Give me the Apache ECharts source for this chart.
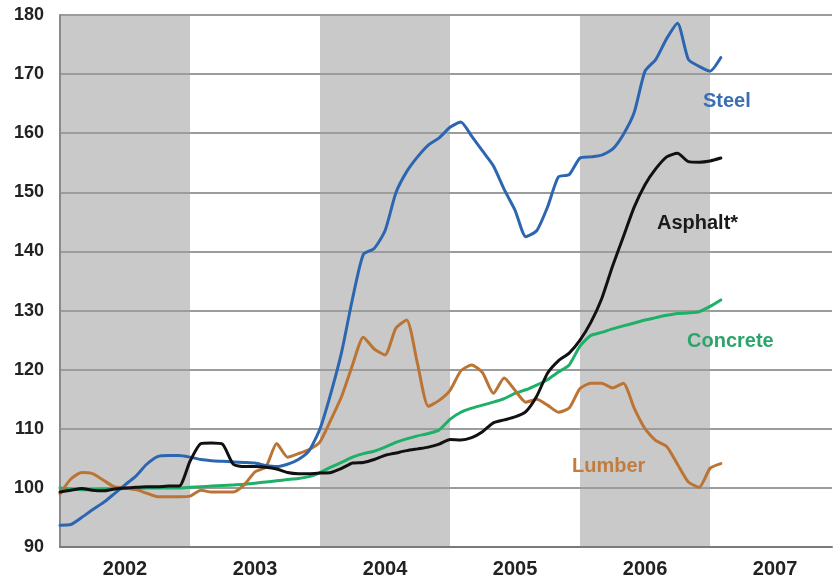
<!DOCTYPE html>
<html>
<head>
<meta charset="utf-8">
<script src="https://cdn.jsdelivr.net/npm/echarts@6/dist/echarts.min.js"></script>
<style>
  html, body { margin: 0; padding: 0; background: #ffffff; }
  #chart { width: 835px; height: 583px; }
</style>
</head>
<body>
<div id="chart"></div>
<script>
// Monthly construction material price indexes, Jan 2002 = first value
const startYear = 2002;
const yearLabels = ['2002', '2003', '2004', '2005', '2006', '2007'];
const shadedYears = [2002, 2004, 2006];
const yTicks = [90, 100, 110, 120, 130, 140, 150, 160, 170, 180];

const steel = [
  93.7, 93.8, 95.0, 96.3, 97.5, 99.0, 100.5, 102.0, 104.0, 105.3, 105.5, 105.5,
  105.2, 104.8, 104.6, 104.5, 104.4, 104.3, 104.2, 103.8, 103.6, 104.0, 104.8, 106.3,
  110.0, 116.0, 123.0, 132.0, 139.5, 140.5, 143.5, 149.9, 153.5, 156.0, 158.0, 159.2,
  161.0, 161.9, 159.5, 157.0, 154.5, 150.5, 147.0, 142.5, 143.5, 147.5, 152.6, 153.0,
  155.8, 156.0, 156.3, 157.3, 159.8, 163.5, 170.5, 172.5, 176.0, 178.6, 172.5, 171.3,
  170.5, 172.8
];
const asphalt = [
  99.3, 99.6, 99.9, 99.6, 99.5, 99.8, 100.0, 100.1, 100.2, 100.2, 100.3, 100.3,
  104.5, 107.5, 107.6, 107.4, 104.0, 103.6, 103.6, 103.5, 103.2, 102.6, 102.4, 102.4,
  102.5, 102.6, 103.3, 104.2, 104.3, 104.8, 105.5, 105.9, 106.3, 106.6, 106.9, 107.4,
  108.2, 108.1, 108.5, 109.5, 111.0, 111.5, 112.0, 112.9, 115.5, 119.4, 121.5, 122.8,
  125.0, 128.0, 132.0, 137.5, 142.5, 147.5, 151.3, 154.0, 156.0, 156.6, 155.2, 155.1,
  155.3, 155.8
];
const concrete = [
  100.0, 99.8, 99.7, 99.7, 99.8, 99.8, 99.9, 99.9, 100.0, 100.0, 100.0, 100.0,
  100.1, 100.2, 100.3, 100.4, 100.5, 100.6, 100.8, 101.0, 101.2, 101.4, 101.6, 101.9,
  102.6, 103.5, 104.3, 105.2, 105.8, 106.2, 106.9, 107.7, 108.3, 108.8, 109.2, 109.8,
  111.6, 112.8, 113.5, 114.0, 114.5, 115.1, 116.0, 116.6, 117.4, 118.3, 119.6, 120.8,
  124.0, 125.8, 126.3, 126.9, 127.4, 127.9, 128.4, 128.8, 129.2, 129.5, 129.6, 129.8,
  130.7, 131.8
];
const lumber = [
  99.0, 101.5, 102.6, 102.4, 101.3, 100.2, 100.0, 99.7, 99.1, 98.5, 98.5, 98.5,
  98.6, 99.6, 99.3, 99.3, 99.3, 100.5, 102.7, 103.5, 107.5, 105.2, 105.8, 106.5,
  107.8, 111.5, 115.5, 120.8, 125.5, 123.5, 122.5, 127.0, 128.4, 121.0, 113.8, 114.8,
  116.5, 119.8, 120.8, 119.5, 116.0, 118.6, 116.5, 114.5, 115.0, 114.0, 112.8, 113.5,
  116.8, 117.7, 117.7, 116.9, 117.7, 113.5, 110.0, 108.0, 107.0, 104.0, 101.0, 100.1,
  103.3, 104.1
];

const toPoints = arr => arr.map((v, i) => [startYear + i / 12, v]);

const FONT = '"Liberation Sans", Arial, sans-serif';

const chart = echarts.init(document.getElementById('chart'), null, { renderer: 'canvas' });

function lineSeries(name, values, color, z) {
  return {
    name: name,
    type: 'line',
    data: toPoints(values),
    showSymbol: false,
    smooth: 0.2,
    z: z,
    lineStyle: { color: color, width: 3, join: 'round', cap: 'round' },
    emphasis: { disabled: true }
  };
}

function seriesLabel(text, x, y, color) {
  return {
    type: 'text',
    x: x,
    y: y,
    z: 100,
    silent: true,
    style: { text: text, fill: color, font: 'bold 20px ' + FONT, textVerticalAlign: 'middle' }
  };
}

const option = {
  animation: false,
  backgroundColor: '#ffffff',
  grid: { left: 60, right: 0, top: 15, bottom: 36, containLabel: false },
  xAxis: {
    type: 'value',
    z: 2,
    min: startYear,
    max: startYear + 71.26 / 12,
    interval: 0.5,
    axisLine: { show: true, onZero: false, lineStyle: { color: '#7a7a7a', width: 2 } },
    axisTick: { show: false },
    splitLine: { show: false },
    axisLabel: {
      margin: 12,
      color: '#222222',
      fontFamily: FONT,
      fontWeight: 'bold',
      fontSize: 20,
      formatter: function (v) {
        const frac = v - Math.floor(v);
        if (Math.abs(frac - 0.5) > 1e-6) return '';
        const idx = Math.floor(v) - startYear;
        return yearLabels[idx] || '';
      }
    }
  },
  yAxis: {
    type: 'value',
    z: 2,
    min: yTicks[0],
    max: yTicks[yTicks.length - 1],
    interval: 10,
    axisLine: { show: true, lineStyle: { color: '#8a8a8a', width: 2 } },
    axisTick: { show: false },
    splitLine: { show: true, lineStyle: { color: '#9c9c9c', width: 2 } },
    axisLabel: {
      margin: 16,
      color: '#222222',
      fontFamily: FONT,
      fontWeight: 'bold',
      fontSize: 18
    }
  },
  series: [
    {
      name: 'bands',
      type: 'line',
      data: [],
      z: 1,
      silent: true,
      markArea: {
        silent: true,
        itemStyle: { color: '#c9c9c9' },
        data: shadedYears.map(y => [{ xAxis: y }, { xAxis: y + 1 }])
      }
    },
    lineSeries('Concrete', concrete, '#1fb068', 3),
    lineSeries('Lumber', lumber, '#bb7433', 4),
    lineSeries('Steel', steel, '#2d66b0', 5),
    lineSeries('Asphalt*', asphalt, '#111111', 6)
  ],
  graphic: [
    seriesLabel('Steel', 703, 101, '#3a6eb5'),
    seriesLabel('Asphalt*', 657, 223, '#1a1a1a'),
    seriesLabel('Concrete', 687, 341, '#2ba56b'),
    seriesLabel('Lumber', 572, 466, '#c27d3e')
  ]
};

chart.setOption(option);
</script>
</body>
</html>
